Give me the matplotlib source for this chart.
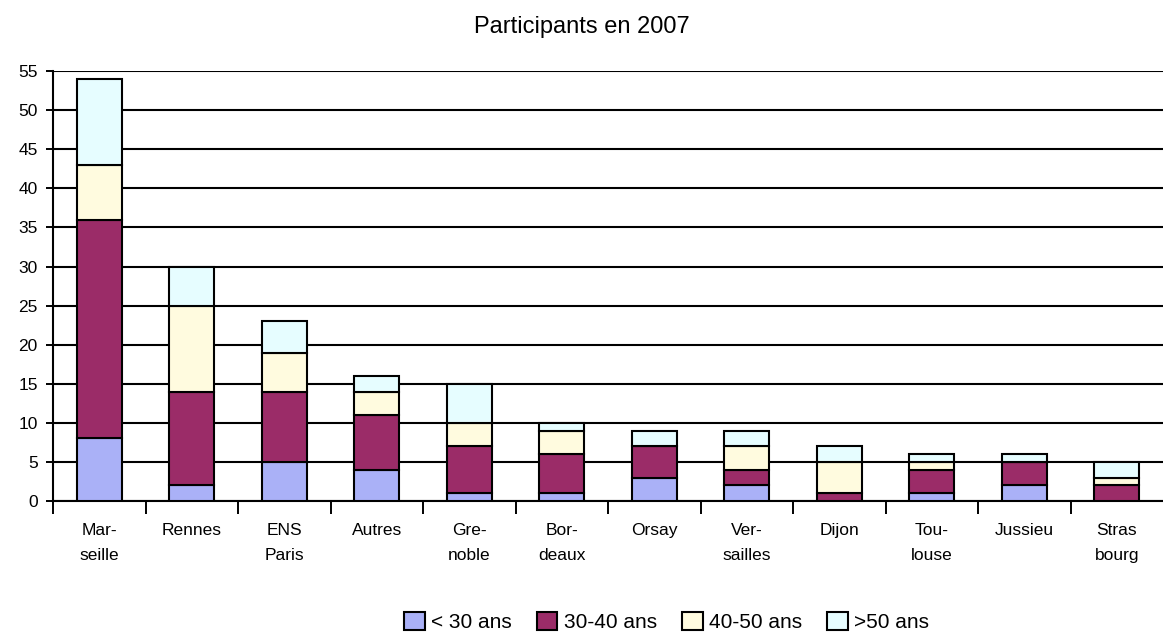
import numpy as np
import matplotlib
matplotlib.use("Agg")
import matplotlib.pyplot as plt

plt.rcParams["font.family"] = ["Liberation Sans", "DejaVu Sans"]

# data
villes = ["Mar-\nseille", "Rennes", "ENS\nParis", "Autres", "Gre-\nnoble", "Bor-\ndeaux",
          "Orsay", "Ver-\nsailles", "Dijon", "Tou-\nlouse", "Jussieu", "Stras\nbourg"]
moins_30 = [8, 2, 5, 4, 1, 1, 3, 2, 0, 1, 2, 0]
de_30_40 = [28, 12, 9, 7, 6, 5, 4, 2, 1, 3, 3, 2]
de_40_50 = [7, 11, 5, 3, 3, 3, 0, 3, 4, 1, 0, 1]
plus_50 = [11, 5, 4, 2, 5, 1, 2, 2, 2, 1, 1, 2]

series = [moins_30, de_30_40, de_40_50, plus_50]
labels = ["< 30 ans", "30-40 ans", "40-50 ans", ">50 ans"]
colors = ["#aab1f7", "#9b2c68", "#fffbdf", "#e6fdff"]

fig = plt.figure(figsize=(11.63, 6.35), dpi=100)
ax = fig.add_axes([0.0456, 0.211, 0.9544, 0.677])

x = np.arange(len(villes))
bottom = np.zeros(len(villes))
for vals, lab, col in zip(series, labels, colors):
    ax.bar(x, vals, width=0.49, bottom=bottom, color=col, edgecolor="black",
           linewidth=1.5, label=lab, zorder=3)
    bottom += np.array(vals)

ax.set_xlim(-0.5, len(villes) - 0.5)
ax.set_ylim(0, 55)
ax.set_yticks(range(0, 56, 5))
ax.yaxis.grid(True, color="black", linewidth=1.5, zorder=0)
ax.tick_params(axis="y", labelsize=12.5, length=5, width=1.4, pad=6)

ax.set_xticks(x)
ax.set_xticklabels(villes, fontsize=12.5, linespacing=1.85)
ax.set_xticks(np.arange(-0.5, len(villes) - 0.5, 1), minor=True)
ax.tick_params(axis="x", which="major", length=0, pad=16)
ax.tick_params(axis="x", which="minor", length=9, width=1.4)

for s in ["top", "right"]:
    ax.spines[s].set_visible(False)
ax.spines["left"].set_linewidth(1.5)
ax.spines["bottom"].set_linewidth(1.5)

fig.suptitle("Participants en 2007", fontsize=17, y=0.975)
fig.legend(loc="lower center", ncol=4, frameon=False, fontsize=15,
           bbox_to_anchor=(0.573, -0.025), handlelength=1.0, handleheight=1.0,
           handletextpad=0.3, columnspacing=1.2)

fig.savefig("out.png", dpi=100)
